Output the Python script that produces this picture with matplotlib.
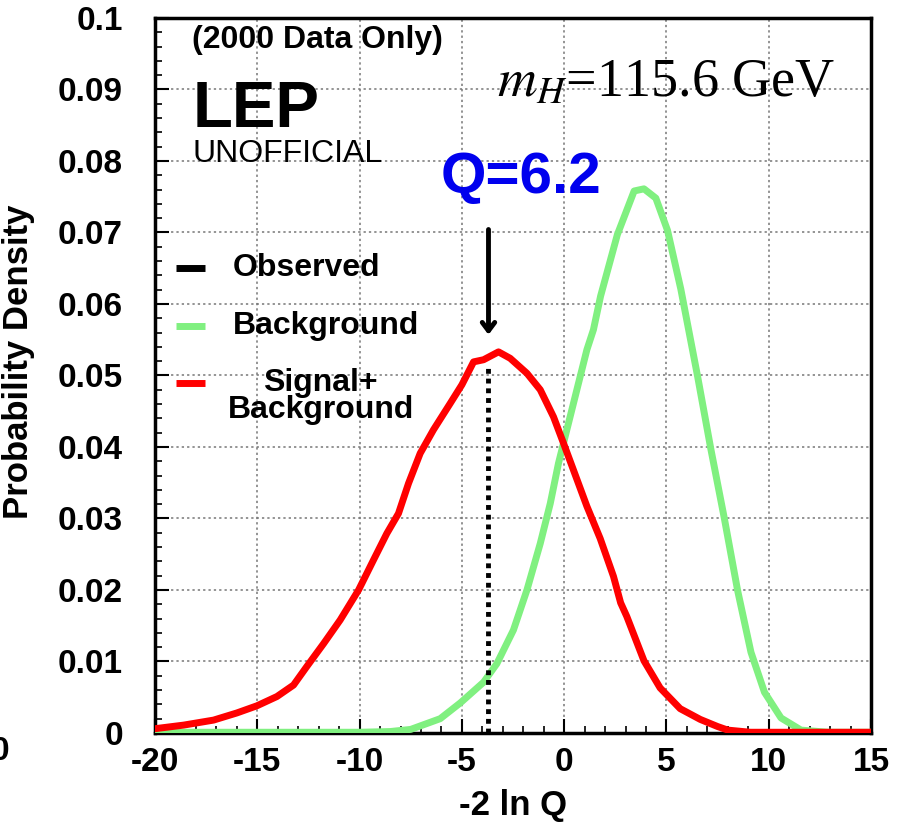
import matplotlib
matplotlib.use("Agg")
import matplotlib.pyplot as plt
from matplotlib.ticker import MultipleLocator

plt.rcParams['font.family'] = ['Liberation Sans', 'DejaVu Sans']
plt.rcParams['mathtext.fontset'] = 'stix'
plt.rcParams['axes.unicode_minus'] = False

# signal + background curve
sb_x = [-20, -18.6, -17.14, -16.0, -15.02, -14.04, -13.23, -12.58, -11.76, -10.95,
        -10.05, -9.32, -8.67, -8.1, -7.61, -7.04, -6.39, -5.57, -5.0, -4.43, -3.94,
        -3.21, -2.64, -1.82, -1.17, -0.52, -0.03, 0.45, 1.11, 1.76, 2.41, 2.76, 3.06,
        3.9, 4.69, 5.67, 6.65, 7.5, 8.0, 9.1, 15]
sb_y = [0.0006, 0.0011, 0.0018, 0.0028, 0.0038, 0.0051, 0.0067, 0.0093, 0.0125, 0.0158,
        0.0200, 0.0242, 0.0279, 0.0307, 0.0349, 0.0391, 0.0424, 0.0461, 0.0487, 0.0519,
        0.0522, 0.0533, 0.0524, 0.0503, 0.048, 0.0442, 0.0405, 0.0368, 0.0317, 0.0272,
        0.0219, 0.0182, 0.0163, 0.0101, 0.0063, 0.0034, 0.0019, 0.0009, 0.0004, 0.0001,
        0.0001]

# background curve
bg_x = [-20, -10, -8.5, -7.5, -6.06, -5.08, -3.94, -3.29, -2.48, -1.82, -1.17, -0.68,
        -0.28, 0.13, 0.62, 1.11, 1.43, 1.78, 2.6, 3.42, 3.9, 4.48, 5.05, 5.7, 6.52,
        7.17, 7.83, 8.48, 9.13, 9.79, 10.6, 11.58, 12.9, 15]
bg_y = [0.0001, 0.0001, 0.0002, 0.0005, 0.002, 0.0042, 0.0071, 0.0097, 0.0144, 0.020,
        0.0265, 0.0321, 0.0377, 0.0424, 0.048, 0.0536, 0.0564, 0.0611, 0.0697, 0.0758,
        0.0761, 0.0748, 0.0703, 0.0621, 0.0499, 0.0397, 0.030, 0.0199, 0.0113, 0.0057,
        0.0021, 0.0004, 0.0001, 0.0001]

observed = -3.7
obs_height = 0.0515

xticks = [-20, -15, -10, -5, 0, 5, 10, 15]
yticks = [0, 0.01, 0.02, 0.03, 0.04, 0.05, 0.06, 0.07, 0.08, 0.09, 0.1]
ytick_labels = ['0', '0.01', '0.02', '0.03', '0.04', '0.05', '0.06', '0.07', '0.08', '0.09', '0.1']

red = '#ff0000'
green = '#80f080'

fig = plt.figure(figsize=(9.03, 8.27), dpi=100)
ax = fig.add_axes([0.1717, 0.1137, 0.7929, 0.8646])

ax.plot(bg_x, bg_y, color=green, lw=5, solid_joinstyle='round', zorder=3)
ax.plot(sb_x, sb_y, color=red, lw=5, solid_joinstyle='round', zorder=4)
ax.plot([observed, observed], [0, obs_height], color='black', lw=3.5, ls=(0, (1, 1)), zorder=5)

ax.annotate('', xy=(observed, 0.0553), xytext=(observed, 0.0708),
            arrowprops=dict(arrowstyle='->,head_length=0.6,head_width=0.45', lw=3.5, color='black'))

ax.set_xlim(-20, 15)
ax.set_ylim(0, 0.1)
ax.set_xticks(xticks)
ax.set_yticks(yticks)
ax.set_yticklabels(ytick_labels)
ax.xaxis.set_minor_locator(MultipleLocator(1))
ax.yaxis.set_minor_locator(MultipleLocator(0.002))
ax.tick_params(which='major', direction='in', length=10, width=1.5, labelsize=24)
ax.tick_params(which='minor', direction='in', length=5, width=1.2)
ax.tick_params(axis='x', pad=10)
ax.tick_params(axis='y', pad=23)
for lab in ax.get_xticklabels() + ax.get_yticklabels():
    lab.set_fontweight('bold')

ax.grid(True, which='major', ls=(0, (1.5, 2)), color='#777777', lw=1.1)
ax.set_axisbelow(True)
for s in ax.spines.values():
    s.set_linewidth(2.5)

ax.set_xlabel('-2 ln Q', fontsize=25, fontweight='bold')
ax.xaxis.set_label_coords(0.5, -0.078)
ax.set_ylabel('Probability Density', fontsize=25, fontweight='bold')
ax.yaxis.set_label_coords(-0.168, 0.519)

# labels inside the plot
ax.text(-18.2, 0.0958, '(2000 Data Only)', fontsize=23, fontweight='bold')
ax.text(-18.15, 0.0848, 'LEP', fontsize=47, fontweight='bold')
ax.text(-18.15, 0.0799, 'UNOFFICIAL', fontsize=23)
ax.text(-3.27, 0.089, r'$m_H$=115.6 GeV', fontsize=39, family='Liberation Serif')
ax.text(-6.06, 0.0755, 'Q=6.2', fontsize=42, fontweight='bold', color='#0000ee')

# legend drawn by hand
leg_y = [0.065, 0.0569, 0.049]
leg_c = ['black', green, red]
for yy, cc in zip(leg_y, leg_c):
    ax.plot([-18.96, -17.55], [yy, yy], color=cc, lw=5, solid_capstyle='butt')
ax.text(-16.18, leg_y[0], 'Observed', fontsize=23, fontweight='bold', va='center')
ax.text(-16.18, leg_y[1], 'Background', fontsize=23, fontweight='bold', va='center')
ax.text(-11.9, leg_y[2], 'Signal+', fontsize=23, fontweight='bold', va='center', ha='center')
ax.text(-11.9, 0.0452, 'Background', fontsize=23, fontweight='bold', va='center', ha='center')

# stray label at the cut left edge
fig.text(-0.01, 1 - 752 / 827, '0', fontsize=24, fontweight='bold', va='center')

fig.savefig('out.png', dpi=100)
